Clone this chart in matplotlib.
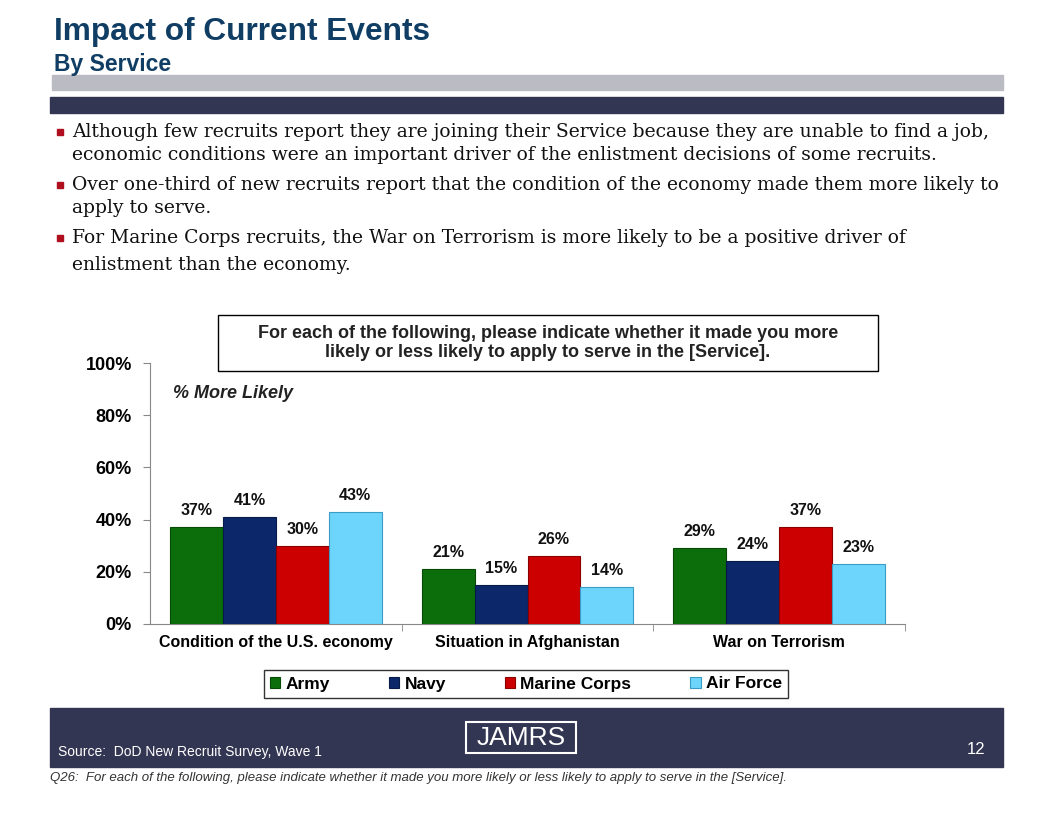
import matplotlib.pyplot as plt
import matplotlib.patches as mpatches
import numpy as np

# --- data ---
categories = ["Condition of the U.S. economy", "Situation in Afghanistan", "War on Terrorism"]
services = ["Army", "Navy", "Marine Corps", "Air Force"]
army = [37, 21, 29]
navy = [41, 15, 24]
marine = [30, 26, 37]
air_force = [43, 14, 23]
yticks = [0, 20, 40, 60, 80, 100]

bullets = [
    ["Although few recruits report they are joining their Service because they are unable to find a job,",
     "economic conditions were an important driver of the enlistment decisions of some recruits."],
    ["Over one-third of new recruits report that the condition of the economy made them more likely to",
     "apply to serve."],
    ["For Marine Corps recruits, the War on Terrorism is more likely to be a positive driver of",
     "enlistment than the economy."],
]

colors = ["#0b6e0b", "#0c286a", "#cc0000", "#6dd5fb"]
edges = ["#064a06", "#061a48", "#8a0000", "#3a9cc4"]
navy_dark = "#333652"
title_col = "#0f3d63"

W, H = 1056, 816
plt.rcParams['font.family'] = ['Liberation Sans', 'DejaVu Sans']

fig = plt.figure(figsize=(W / 100, H / 100), dpi=100)


def fx(x):
    return x / W


def fy(y):
    return 1 - y / H


# header
fig.text(fx(54), fy(32), "Impact of Current Events", fontsize=22.8, fontweight='bold',
         color=title_col, va='center', ha='left')
fig.text(fx(54), fy(65), "By Service", fontsize=16.5, fontweight='bold',
         color=title_col, va='center', ha='left')
fig.patches.append(mpatches.Rectangle((fx(52), fy(90)), fx(1003 - 52), (90 - 75) / H,
                                      transform=fig.transFigure, color="#bbbbc3", zorder=0))
fig.patches.append(mpatches.Rectangle((fx(50), fy(113)), fx(1003 - 50), (113 - 97) / H,
                                      transform=fig.transFigure, color=navy_dark, zorder=0))

# bullets
line_y = [[132, 155], [185, 208], [238, 265]]
for lines, ys in zip(bullets, line_y):
    fig.patches.append(mpatches.Rectangle((fx(57), fy(ys[0] + 3)), fx(6), 6 / H,
                                          transform=fig.transFigure, color="#b0101e"))
    for txt, y in zip(lines, ys):
        fig.text(fx(72), fy(y), txt, fontsize=13.5, family=['DejaVu Serif'],
                 color="#111111", va='center', ha='left')

# chart
ax = fig.add_axes([fx(150), fy(624), fx(905 - 150), (624 - 363) / H])
x = np.arange(len(categories))
bw = 0.21
series = [army, navy, marine, air_force]
for i, (vals, c, e, name) in enumerate(zip(series, colors, edges, services)):
    pos = x + (i - 1.5) * bw
    ax.bar(pos, vals, width=bw, color=c, edgecolor=e, linewidth=0.8, label=name, zorder=3)
    for p, v in zip(pos, vals):
        ax.text(p, v + 3.5, f"{v}%", ha='center', va='bottom', fontsize=11.5,
                fontweight='bold', color="#111111")

ax.set_xlim(-0.5, 2.5)
ax.set_ylim(0, 100)
ax.set_yticks(yticks)
ax.set_yticklabels([f"{t}%" for t in yticks], fontsize=13, fontweight='bold')
ax.set_xticks(x)
ax.set_xticklabels(categories, fontsize=11.5, fontweight='bold')
ax.tick_params(axis='x', length=0, pad=8)
ax.tick_params(axis='y', length=5, color="#888888", pad=8)
ax.set_xticks([0.5, 1.5, 2.5], minor=True)
ax.tick_params(axis='x', which='minor', length=5, color="#888888", direction='out')
for s in ['top', 'right']:
    ax.spines[s].set_visible(False)
for s in ['left', 'bottom']:
    ax.spines[s].set_color("#888888")
ax.text(0.03, 0.885, "% More Likely", transform=ax.transAxes, fontsize=13,
        fontstyle='italic', fontweight='bold', color="#222222", va='center')

# question box
fig.text(fx(548), fy(343),
         "For each of the following, please indicate whether it made you more\n"
         "likely or less likely to apply to serve in the [Service].",
         fontsize=13, fontweight='bold', color="#222222", ha='center', va='center',
         linespacing=1.2)
fig.patches.append(mpatches.Rectangle((fx(218), fy(371)), fx(878 - 218), (371 - 315) / H,
                                      transform=fig.transFigure, fill=False,
                                      edgecolor='black', linewidth=1, zorder=5))

# legend
leg = fig.legend(loc='center', bbox_to_anchor=(fx(526), fy(684)), ncol=4, frameon=True,
                 fancybox=False, edgecolor='black',
                 prop={'weight': 'bold', 'size': 12.5}, handlelength=0.6, handleheight=0.6,
                 handletextpad=0.3, columnspacing=3.4, borderpad=0.35)
leg.get_frame().set_linewidth(1)

# footer
fig.patches.append(mpatches.Rectangle((fx(50), fy(767)), fx(1003 - 50), (767 - 708) / H,
                                      transform=fig.transFigure, color=navy_dark, zorder=0))
fig.text(fx(58), fy(752), "Source:  DoD New Recruit Survey, Wave 1", fontsize=10,
         color='white', va='center', ha='left')
fig.text(fx(985), fy(750), "12", fontsize=12, color='white', va='center', ha='right')
fig.patches.append(mpatches.Rectangle((fx(466), fy(753)), fx(576 - 466), (753 - 722) / H,
                                      transform=fig.transFigure, fill=False,
                                      edgecolor='white', linewidth=1.5, zorder=2))
fig.text(fx(521), fy(738), "JAMRS", fontsize=19, color='white', va='center', ha='center')
fig.text(fx(50), fy(778),
         "Q26:  For each of the following, please indicate whether it made you more likely or less likely to apply to serve in the [Service].",
         fontsize=9.5, fontstyle='italic', color="#333333", va='center', ha='left')

fig.savefig("out.png", dpi=100, facecolor='white')
